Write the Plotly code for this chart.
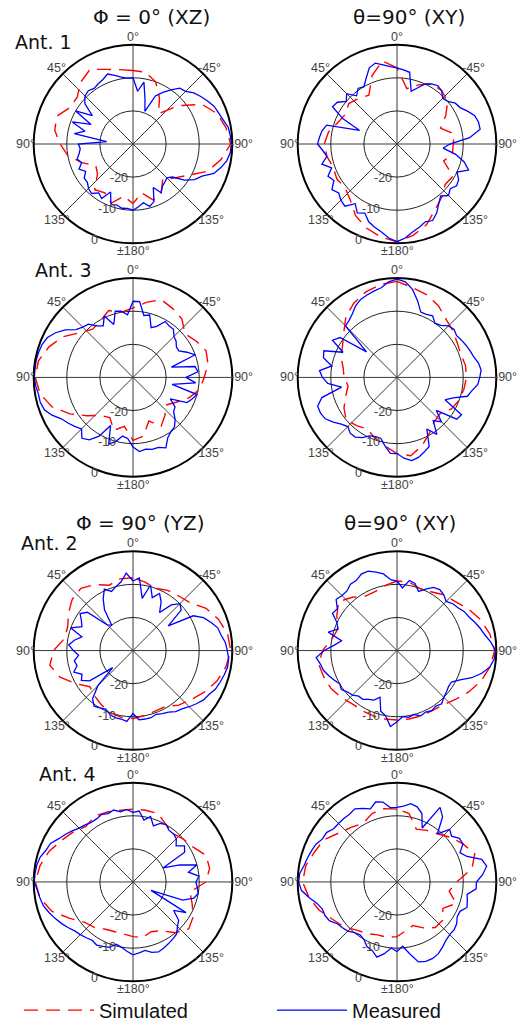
import math
import plotly.graph_objects as go

# Angles (deg): 0 = top, counter-clockwise positive (90 = left, 270 = -90 right)
theta_sim = list(range(0, 360, 10))
theta_meas = list(range(0, 360, 5))

# ---- Ant. 1, phi = 0 (XZ)
a1_xz_sim = [-7.8, -7.2, -6, -4, -5.5, -8, -8, -5.5, -6, -8, -10, -13.5, -17, -16, -12, -13, -11, -14,
             -12, -15, -12, -13, -16, -14, -11, -6, -3, -0.5, -1.5, -3, -6, -12, -18, -14, -10, -8]
a1_xz_meas = [-10, -10, -9.5, -8.5, -7.5, -8.5, -9, -9.5, -9, -9.5, -11, -15, -10, -16, -10.5, -15, -12, -22,
              -13.5, -14, -13.5, -12.5, -13.5, -12, -13.5, -12, -12, -11, -10.5, -12, -11, -14, -10.5, -11, -10.3, -10.5,
              -10, -11, -12, -10.5, -11.5, -15.5, -13, -14.5, -15, -15.5, -14.5, -11, -8.5, -7, -4, -2.5, -1.2, -0.5,
              -0.3, -0.5, -0.8, -1.8, -2.5, -3, -4, -5, -6, -7.5, -8, -10, -12, -14, -19.5, -16, -11, -14]
# ---- Ant. 1, theta = 90 (XY)
a1_xy_sim = [-7, -4.5, -8, -13, -12, -11, -12, -11, -9, -8, -8.5, -9.5, -9, -9.5, -8, -5, -3, -1.5,
             -0.5, -2, -4, -7, -9, -11, -10.5, -15, -13, -13, -12.5, -16, -13, -10, -9, -9, -11, -13]
a1_xy_meas = [-7, -6.5, -5.7, -4.7, -5.5, -8, -10, -9.5, -11, -8.5, -10, -8, -7.5, -12, -18, -8, -7, -6.5,
              -6, -7.5, -8.5, -6.5, -9, -7, -8, -6, -7, -6, -5.5, -8, -6, -7, -5, -4, -3, -1.5,
              -0.5, -1.5, -3, -4, -5, -4.5, -6, -8, -9.5, -8, -9, -8, -8.5, -10, -7, -9, -12, -16,
              -14, -8, -4.5, -4.5, -5, -6.5, -8, -8.5, -10, -10.5, -9, -8.5, -9, -10, -12, -13.5, -8, -7.5]
# ---- Ant. 3, phi = 0 (XZ)
a3_xz_sim = [-9, -10, -8.5, -10.3, -11, -9, -5.5, -3, -1, -0.5, -1.5, -4, -8, -12, -15, -16, -13, -15,
             -11, -12, -16, -13, -15, -17, -15, -12, -9.5, -8.5, -7, -6.5, -8, -9.5, -7, -6, -5, -7]
a3_xz_meas = [-7, -11, -9.7, -9.3, -13, -9.5, -12, -11, -9, -8.5, -7.5, -5, -3, -1.5, -0.8, -0.5, -0.3, -0.3,
              -0.2, -0.5, -1, -1, -1.5, -3, -5, -6, -7, -8, -6, -7, -9.5, -14, -8.5, -10, -12, -11.5,
              -9, -7.5, -8, -7.5, -7.5, -6.5, -9, -10, -10.5, -12, -14, -14.5, -17, -12, -11, -10, -18, -11,
              -14, -10.3, -11, -18, -10, -12, -14, -14, -13, -12.5, -11, -11, -10.5, -13, -14, -10.5, -11, -7]
# ---- Ant. 3, theta = 90 (XY)
a3_xy_sim = [-1, -1.5, -2.5, -4, -6, -9, -11, -12, -13.5, -14, -15, -13.5, -11.5, -10, -11, -12, -10.5, -9,
             -7, -6, -8, -10.5, -12.5, -13, -11, -10, -9.5, -9, -9, -9.5, -9, -8, -7, -5, -3.5, -2.5]
a3_xy_meas = [-0.3, -1, -2.5, -3, -3.5, -4, -5, -6.5, -7.5, -8, -18, -9, -7.5, -12, -6.5, -7, -10, -6.5,
              -7.5, -9, -13, -6.5, -4.5, -4.5, -5, -6.5, -8, -9, -8, -8, -9, -10.5, -11, -11, -9, -7,
              -7, -5.5, -4.5, -5, -6, -7, -12, -9, -13, -11, -14.5, -8, -7.5, -14, -12, -8, -7, -5.5,
              -5, -4.5, -5, -6, -6.5, -7, -7.5, -8, -7.5, -8, -9.5, -10, -8.5, -9, -9, -6, -3, -1]
# ---- Ant. 2, phi = 90 (YZ)
a2_yz_sim = [-8, -8, -9, -7, -5.5, -6, -7.5, -9, -9, -6, -4.5, -6.5, -10, -13, -12, -11, -10, -9.5,
             -9.5, -10, -10.5, -10.5, -8.5, -7, -5, -3, -1.5, -0.5, -1, -2.5, -4.5, -7.5, -8.5, -9, -10, -9]
a2_yz_meas = [-9, -6.5, -9, -10, -11, -9.5, -12, -15, -20, -19, -12, -10.5, -12, -13, -10, -14, -12, -10.5,
              -12, -13.5, -12, -12.5, -11, -13, -12, -14, -22, -15, -11, -9.5, -10, -10.5, -9.5, -9, -9, -8.5,
              -11, -9, -9, -9, -9.5, -9, -8.5, -7.5, -7, -6, -5, -4, -3.5, -2.5, -2, -1.5, -1, -1,
              -1.5, -2, -3, -3.5, -5, -6.5, -9, -17, -11, -10, -12, -16, -13, -11, -13, -9.5, -14, -8]
# ---- Ant. 2, theta = 90 (XY)
a2_xy_sim = [-9, -10, -11, -11, -9, -7, -9, -11, -10, -7.5, -6, -6.5, -7, -8, -9, -9, -9, -9,
             -9, -9, -9, -9, -8.5, -7, -5, -3, -1.5, -0.5, -1.5, -3, -5, -7, -8, -9.5, -10, -9]
a2_xy_meas = [-9, -8.5, -6.5, -5.5, -4.5, -4.5, -5.5, -5.5, -6.5, -6.5, -6, -8, -7.5, -10, -11, -8.5, -13, -11,
              -8, -5.5, -6.5, -7, -8, -9, -10, -9.5, -10.5, -11, -12, -12, -13, -13.5, -15, -11, -10, -7,
              -8.5, -10, -9.5, -10, -9, -9.5, -9, -9.5, -9, -10, -10.5, -11, -11, -9, -6, -3.5, -1.5, -0.5,
              -0.3, -1.5, -3, -4, -5, -6, -6.5, -7.5, -8, -9, -8, -7.5, -8, -9.5, -11, -9, -8.5, -11]
# ---- Ant. 4, phi = 90 (YZ)
a4_yz_sim = [-8, -8, -7.5, -7, -8, -6.5, -5, -3, -1.5, -0.5, -1.5, -4, -8, -11, -12, -13.5, -14, -14,
             -13.5, -13, -14, -13, -10, -8, -9, -11, -12.5, -8, -6.5, -6.5, -9, -10, -11, -10, -8, -8]
a4_yz_meas = [-9, -8, -8.5, -7.5, -8, -7.5, -8, -8, -7.5, -7, -6, -5, -4, -2.5, -2, -1, -0.5, -0.3,
              -0.2, -1, -1.5, -2, -3, -4, -5, -6, -7, -7.5, -8, -8.5, -8, -8.5, -9, -10.5, -10, -9,
              -8, -8.5, -9, -8, -7.5, -8, -8.5, -9, -9.5, -11, -12, -15, -11.5, -24, -14, -11, -10, -10.5,
              -11, -10, -13, -10, -15, -20, -12, -11, -13, -11.5, -11, -11, -10, -10.5, -12, -9.5, -11, -8.5]
# ---- Ant. 4, theta = 90 (XY)
a4_xy_sim = [-8, -7.5, -8, -9.5, -8.5, -7, -4.5, -3.5, -2, -1.5, -3, -5, -7.5, -9, -11, -12, -13, -13,
             -13.5, -15, -16, -14, -12, -12, -14, -11, -14, -12, -7, -5, -7, -9, -11, -12, -13, -9]
a4_xy_meas = [-7.5, -7.5, -5.5, -5, -6.5, -5.5, -4.5, -5, -5, -5, -5, -4, -4, -3, -2.5, -2, -1.5, -0.5,
              -0.3, -1, -3, -5, -6, -6, -6.5, -8, -8.5, -9, -10, -10.5, -10, -8.5, -8, -6.5, -8, -10,
              -9, -10.5, -8, -5, -4.5, -4.5, -5, -6, -7, -7.5, -7.5, -8, -9, -9, -7.5, -8, -8.5, -6,
              -6, -4, -2.5, -3.5, -7.5, -9, -7, -7, -8.5, -7.5, -11, -6, -4, -12, -8, -6.5, -6, -7]

col_titles = ["Φ = 0° (XZ)", "θ=90° (XY)", "Φ = 90° (YZ)", "θ=90° (XY)"]
ant_labels = ["Ant. 1", "Ant. 3", "Ant. 2", "Ant. 4"]
ang_tickvals = [0, 45, 90, 135, 180, 225, 270, 315]
ang_ticktext = ["0°", "45°", "90°", "135°", "±180°", "-135°", "-90°", "-45°"]
rad_tickvals = [-20, -10, 0]
rad_ticktext = ["-20", "-10", "0"]
legend_names = ["Simulated", "Measured"]
R_MIN, R_MAX = -30, 0

panels = [
    (a1_xz_sim, a1_xz_meas), (a1_xy_sim, a1_xy_meas),
    (a3_xz_sim, a3_xz_meas), (a3_xy_sim, a3_xy_meas),
    (a2_yz_sim, a2_yz_meas), (a2_xy_sim, a2_xy_meas),
    (a4_yz_sim, a4_yz_meas), (a4_xy_sim, a4_xy_meas),
]

W, H = 525, 1030
centers_x = [133, 397]
centers_y = [145, 380, 655, 888]
R = 100


def px(x):
    return x / W


def py(y):
    return 1 - y / H


label_font = dict(family="Liberation Sans", size=12.5, color="#444")

fig = go.Figure()
layout = {}
annotations = []
for i, (sim, meas) in enumerate(panels):
    row, col = divmod(i, 2)
    name = "polar" if i == 0 else f"polar{i+1}"
    cx, cy = centers_x[col], centers_y[row]
    layout[name] = dict(
        domain=dict(x=[px(cx - R), px(cx + R)], y=[py(cy + R), py(cy - R)]),
        bgcolor="white",
        angularaxis=dict(rotation=90, direction="counterclockwise",
                         tickvals=ang_tickvals, ticks="", showticklabels=False,
                         showline=True, linecolor="black", linewidth=2,
                         gridcolor="#3a3a3a", gridwidth=1),
        radialaxis=dict(range=[R_MIN, R_MAX], tickvals=rad_tickvals, ticks="",
                        showticklabels=False, showline=False,
                        gridcolor="#222", gridwidth=1),
    )
    fig.add_trace(go.Scatterpolar(theta=theta_sim + [theta_sim[0]], r=sim + [sim[0]], mode="lines",
                                  line=dict(color="red", width=1.4, dash="14px,8px"),
                                  name=legend_names[0], showlegend=(i == 0), subplot=name))
    fig.add_trace(go.Scatterpolar(theta=theta_meas + [theta_meas[0]], r=meas + [meas[0]], mode="lines",
                                  line=dict(color="blue", width=1.3),
                                  name=legend_names[1], showlegend=(i == 0), subplot=name))
    # angular tick labels, centred just outside the rim along each spoke
    for a, t in zip(ang_tickvals, ang_ticktext):
        d = R + 8
        x = cx - d * math.sin(math.radians(a))
        y = cy - d * math.cos(math.radians(a))
        annotations.append(dict(text=t, x=px(x), y=py(y), xref="paper", yref="paper",
                                showarrow=False, xanchor="center", yanchor="middle", font=label_font))
    # radial tick labels along a ray slightly left of straight down
    rad_ang = math.radians(248)
    for v, t in zip(rad_tickvals, rad_ticktext):
        d = (v - R_MIN) / (R_MAX - R_MIN) * R + 4
        x = cx + d * math.cos(rad_ang)
        y = cy - d * math.sin(rad_ang)
        annotations.append(dict(text=t, x=px(x), y=py(y), xref="paper", yref="paper",
                                showarrow=False, xanchor="center", yanchor="middle", font=label_font))

title_pos = [(151, 17), (409, 17), (140, 527), (400, 527)]
for (tx, ty), t in zip(title_pos, col_titles):
    annotations.append(dict(text=t, x=px(tx), y=py(ty), xref="paper", yref="paper",
                            showarrow=False, xanchor="center", yanchor="middle",
                            font=dict(family="DejaVu Sans", size=20, color="#111")))
ant_pos = [(13, 42), (33, 272), (19, 547), (37, 779)]
for (tx, ty), t in zip(ant_pos, ant_labels):
    annotations.append(dict(text=t, x=px(tx), y=py(ty), xref="paper", yref="paper",
                            showarrow=False, xanchor="left", yanchor="middle",
                            font=dict(family="DejaVu Sans", size=19, color="#111")))

fig.update_layout(
    width=W, height=H, margin=dict(l=0, r=0, t=0, b=0),
    paper_bgcolor="white", plot_bgcolor="white",
    showlegend=True,
    legend=dict(orientation="h", x=px(31), y=py(1017), xanchor="left", yanchor="middle",
                font=dict(family="Liberation Sans", size=20, color="#111"),
                itemwidth=70, entrywidth=168, entrywidthmode="pixels",
                bgcolor="rgba(0,0,0,0)"),
    annotations=annotations,
    **layout,
)
# remove the browser's default 8px body margin so the 525x1030 figure fills the window exactly
fig.write_html("out.html", config={"displayModeBar": False},
               post_script="document.body.style.margin='0';")
